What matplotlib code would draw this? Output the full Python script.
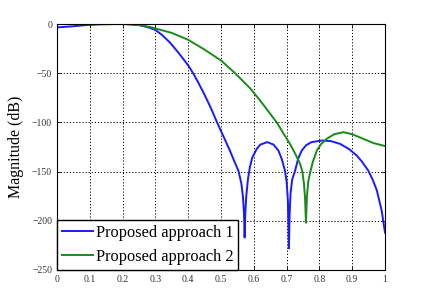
import matplotlib
matplotlib.use('Agg')
import matplotlib.pyplot as plt

# normalised frequency / magnitude (dB)
f1 = [0.0, 0.05, 0.09, 0.13, 0.18, 0.22, 0.25, 0.28, 0.30, 0.32, 0.345, 0.37, 0.40, 0.415,
      0.43, 0.45, 0.47, 0.488, 0.51, 0.527, 0.54, 0.553, 0.562, 0.567, 0.570, 0.572,
      0.574, 0.577, 0.582, 0.588, 0.595, 0.609, 0.62, 0.641, 0.66, 0.675, 0.685, 0.695,
      0.700, 0.704, 0.707, 0.709, 0.712, 0.717, 0.726, 0.735, 0.746, 0.76, 0.776, 0.807,
      0.835, 0.863, 0.89, 0.914, 0.93, 0.949, 0.962, 0.975, 0.99, 1.0]
mag1 = [-3.4, -2.2, -1.0, -0.3, 0.0, 0.0, -1.0, -3.5, -6.0, -11.0, -19.0, -29.0, -42.0, -50.0,
        -59.0, -72.0, -86.0, -100.0, -116.0, -128.6, -139.0, -149.0, -162.0, -176.0, -192.0, -217.0,
        -193.0, -175.0, -158.0, -145.6, -136.0, -126.8, -122.5, -120.0, -122.5, -128.6, -137.0, -149.0,
        -160.0, -180.0, -228.0, -195.0, -172.0, -158.0, -149.0, -137.0, -128.6, -123.0, -120.0, -118.4,
        -119.0, -121.8, -127.0, -133.7, -140.0, -149.0, -158.0, -169.0, -190.0, -212.0]

f2 = [0.0, 0.1, 0.2, 0.25, 0.284, 0.35, 0.40, 0.45, 0.50, 0.543, 0.588, 0.619, 0.67,
      0.69, 0.71, 0.725, 0.741, 0.748, 0.753, 0.756, 0.759, 0.762, 0.766, 0.771, 0.78,
      0.792, 0.805, 0.822, 0.845, 0.873, 0.90, 0.934, 0.965, 1.0]
mag2 = [0.0, 0.3, 0.0, -1.0, -3.0, -9.0, -16.0, -26.0, -37.0, -50.0, -65.0, -77.6, -100.0,
        -111.0, -121.7, -131.0, -142.0, -150.0, -162.6, -176.0, -202.0, -175.0, -160.0, -152.0, -140.0,
        -128.6, -122.0, -116.7, -112.0, -109.9, -112.0, -116.7, -121.0, -124.0]

labels = ['Proposed approach 1', 'Proposed approach 2']

plt.rcParams['font.family'] = ['Liberation Serif', 'DejaVu Serif']

fig = plt.figure(figsize=(4.26, 2.90), dpi=100)
ax = fig.add_axes([0.1338, 0.069, 0.77, 0.848])

ax.plot(f1, mag1, color='#1a1aff', lw=1.4, label=labels[0])
ax.plot(f2, mag2, color='#1a8a1a', lw=1.4, label=labels[1])

ax.set_xlim(0, 1)
ax.set_ylim(-250, 0)
ax.set_xticks([i / 10 for i in range(11)])
ax.set_xticklabels(['0', '0.1', '0.2', '0.3', '0.4', '0.5', '0.6', '0.7', '0.8', '0.9', '1'])
ax.set_yticks(range(-250, 1, 50))
ax.tick_params(direction='in', labelsize=7, length=3, width=0.6, top=True, right=True,
               labelcolor='#333333')
ax.grid(True, color='black', linestyle=(0, (1.2, 2.0)), linewidth=0.7)
for s in ax.spines.values():
    s.set_linewidth(0.8)

ax.set_ylabel('Magnitude (dB)', fontsize=11.5, labelpad=6)

leg = ax.legend(loc='lower left', bbox_to_anchor=(0, 0), borderaxespad=0, fontsize=11.8,
                fancybox=False, edgecolor='black', framealpha=1, handlelength=1.9,
                handletextpad=0.15, borderpad=0.3, labelspacing=0.5)
leg.get_frame().set_linewidth(1.0)

fig.savefig('out.png', dpi=100)
